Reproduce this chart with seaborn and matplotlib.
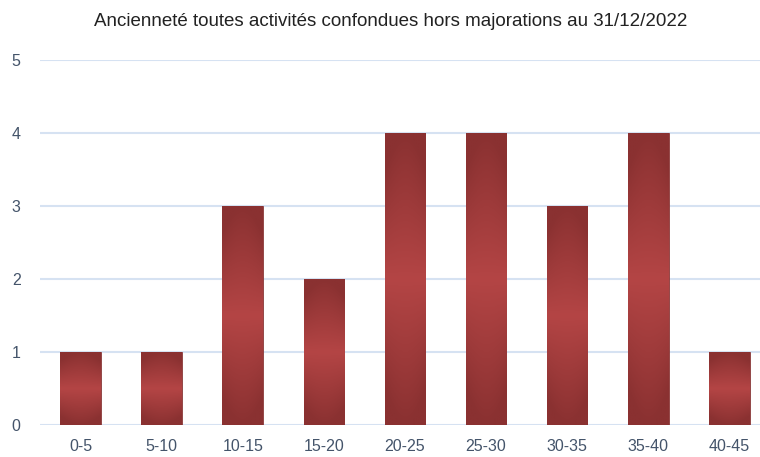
import numpy as np
import pandas as pd
import seaborn as sns
import matplotlib.pyplot as plt
from matplotlib.colors import LinearSegmentedColormap

# Données
tranches = ['0-5', '5-10', '10-15', '15-20', '20-25', '25-30', '30-35', '35-40', '40-45']
effectifs = [1, 1, 3, 2, 4, 4, 3, 4, 1]
titre = 'Ancienneté toutes activités confondues hors majorations au 31/12/2022'

df = pd.DataFrame({'Tranche': tranches, 'Effectif': effectifs})

sns.set_style('white')
plt.rcParams['font.family'] = ['Liberation Sans', 'DejaVu Sans']

fig = plt.figure(figsize=(7.6, 4.57), dpi=100)
ax = fig.add_axes([40 / 760, 32 / 457, 730 / 760, 365 / 457])

sns.barplot(data=df, x='Tranche', y='Effectif', color='#9E3A3A', width=0.5,
            saturation=1, ax=ax, zorder=3)

# dégradé : sombre en haut et en bas, clair au centre
cmap = LinearSegmentedColormap.from_list('rouge', ['#8A3131', '#B44545', '#8A3131'])
for bar in ax.patches:
    x0, y0 = bar.get_x(), bar.get_y()
    w, h = bar.get_width(), bar.get_height()
    yy = np.linspace(0, 1, 200)[:, None]
    xx = np.linspace(-1, 1, 60)[None, :]
    val = yy + 0 * xx
    val = 0.5 + (val - 0.5) * (1 + 0.3 * xx ** 2)
    im = ax.imshow(np.clip(val, 0, 1), cmap=cmap, aspect='auto',
                   extent=[x0, x0 + w, y0, y0 + h],
                   origin='lower', zorder=4, vmin=0, vmax=1)
    im.set_clip_path(bar)
    bar.set_edgecolor('#8A3A3A')
    bar.set_linewidth(0.6)

ax.set_xlim(-0.5, len(tranches) - 0.5)
ax.set_ylim(0, 5)
ax.set_yticks(range(0, 6))
ax.yaxis.grid(True, color='#D6E2F2', linewidth=1.5, zorder=0)
ax.set_axisbelow(True)
for s in ax.spines.values():
    s.set_visible(False)
ax.set_xlabel('')
ax.set_ylabel('')
ax.tick_params(axis='both', length=0, labelsize=11.5, labelcolor='#44546A')
ax.tick_params(axis='y', pad=14)
ax.tick_params(axis='x', pad=10)

fig.text(391 / 760, 1 - 21 / 457, titre, ha='center', va='center',
         fontsize=13.5, color='#222222')

fig.savefig('out.png', dpi=100)
